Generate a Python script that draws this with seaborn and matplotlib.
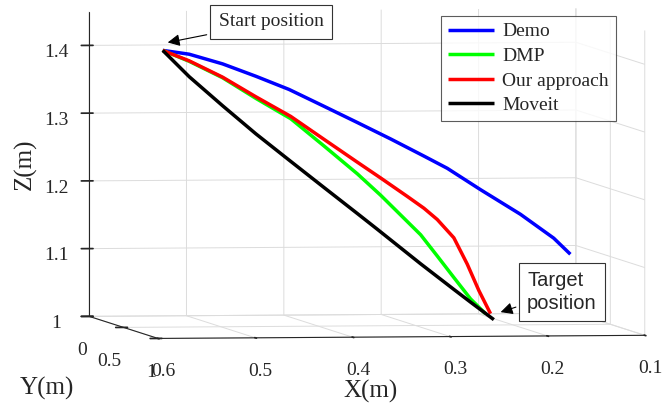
import matplotlib
matplotlib.use("Agg")
import matplotlib.pyplot as plt
import seaborn as sns

# ---------------- data ----------------
demo_x = [0.5456, 0.5184, 0.4841, 0.4499, 0.4158, 0.3799, 0.3456, 0.3115, 0.2773,
          0.2533, 0.2192, 0.1782, 0.1440, 0.1269]
demo_z = [1.4019, 1.3960, 1.3814, 1.3628, 1.3430, 1.3178, 1.2935, 1.2690, 1.2434,
          1.2251, 1.1933, 1.1566, 1.1210, 1.0971]
demo_y = [0.3] * len(demo_x)

dmp_x = [0.5456, 0.5184, 0.4841, 0.4499, 0.4141, 0.3799, 0.3456, 0.3217, 0.3012,
         0.2807, 0.2636, 0.2466, 0.2294, 0.2141]
dmp_z = [1.4019, 1.3855, 1.3609, 1.3301, 1.2998, 1.2592, 1.2177, 1.1859, 1.1566,
         1.1273, 1.0957, 1.0639, 1.0321, 1.0101]
dmp_y = [0.3] * len(dmp_x)

ours_x = [0.5456, 0.5423, 0.5184, 0.4841, 0.4499, 0.4141, 0.3799, 0.3456, 0.3217,
          0.2944, 0.2773, 0.2636, 0.2466, 0.2328, 0.2209, 0.2089]
ours_z = [1.4019, 1.3999, 1.3862, 1.3618, 1.3325, 1.3032, 1.2690, 1.2349, 1.2114,
          1.1840, 1.1664, 1.1496, 1.1225, 1.0834, 1.0444, 1.0101]
ours_y = [0.3] * len(ours_x)

moveit_x = [0.5456, 0.5184, 0.4841, 0.4499, 0.4141, 0.3799, 0.3456, 0.3251, 0.2807,
            0.2466, 0.2294, 0.2055]
moveit_z = [1.4019, 1.3628, 1.3196, 1.2778, 1.2368, 1.1979, 1.1591, 1.1357, 1.0844,
            1.0463, 1.0273, 1.0013]
moveit_y = [0.3] * len(moveit_x)

series_names = ["Demo", "DMP", "Our approach", "Moveit"]
series_colors = ["#0000ff", "#00ff00", "#ff0000", "#000000"]

x_ticks = [0.1, 0.2, 0.3, 0.4, 0.5, 0.6]
y_ticks = [0, 0.5, 1]
z_ticks = [1, 1.1, 1.2, 1.3, 1.4]

# ---------------- style ----------------
sns.set_theme(style="white")
plt.rcParams["font.family"] = ["Liberation Serif", "DejaVu Serif"]

fig = plt.figure(figsize=(6.7, 4.05), dpi=100)
ax = fig.add_axes([0.0395, 0.0583, 1.0, 1.0], projection="3d", proj_type="ortho")
ax.set_box_aspect((493, 493, 306), zoom=1.82)
ax.view_init(elev=2.6, azim=81.95)

series = [(demo_x, demo_y, demo_z), (dmp_x, dmp_y, dmp_z),
          (ours_x, ours_y, ours_z), (moveit_x, moveit_y, moveit_z)]
for (xs, ys, zs), name, col in zip(series, series_names, series_colors):
    ax.plot(xs, ys, zs, color=col, lw=2.5, label=name, solid_capstyle="butt",
            solid_joinstyle="round", clip_on=False)

ax.set_xlim(0.1, 0.6)
ax.set_ylim(0, 1)
ax.set_zlim(1, 1.45)
ax.set_xticks(x_ticks)
ax.set_yticks(y_ticks)
ax.set_zticks(z_ticks)
ax.set_xticklabels([f"{v:g}" for v in x_ticks])
ax.set_yticklabels([])
ax.set_zticklabels([f"{v:g}" for v in z_ticks])
ax.tick_params(labelsize=14, colors="#262626")
ax.tick_params(axis="z", pad=1)
for axis in (ax.xaxis, ax.yaxis, ax.zaxis):
    axis.offsetText.set_visible(False)
    axis.label.set_visible(False)
for t in (ax.title, ax._left_title, ax._right_title):
    t.set_visible(False)

# y tick labels set just below the ticks of the left floor edge
for v in y_ticks:
    ax.text(0.602, v, 0.949, f"{v:g}", ha="right", va="center", fontsize=14,
            color="#262626")

for axis in (ax.xaxis, ax.yaxis, ax.zaxis):
    axis.set_pane_color((1, 1, 1, 0))
    axis.pane.set_edgecolor("#d9d9d9")
    axis._axinfo["grid"]["color"] = "#dcdcdc"
    axis._axinfo["grid"]["linewidth"] = 0.7
    axis.line.set_color("#262626")
    axis.line.set_linewidth(0.8)

fig.text(25 / 670, 1 - 164 / 405, "Z(m)", rotation=90, ha="center", va="center", fontsize=18)
fig.text(47 / 670, 1 - 388 / 405, "Y(m)", ha="center", va="center", fontsize=18)
fig.text(371 / 670, 1 - 391 / 405, "X(m)", ha="center", va="center", fontsize=18)

leg = ax.legend(loc="upper left", bbox_to_anchor=(441 / 670, 1 - 16 / 405),
                bbox_transform=fig.transFigure, borderaxespad=0, fontsize=14,
                frameon=True, fancybox=False, edgecolor="#333333", handlelength=2.4,
                labelspacing=0.36, borderpad=0.35, handletextpad=0.4)
leg.get_frame().set_linewidth(0.8)

ax.annotate("Start position", xy=(165 / 670, 1 - 43 / 405), xycoords="figure fraction",
            xytext=(271 / 670, 1 - 22 / 405), textcoords="figure fraction",
            ha="center", va="center", fontsize=14,
            bbox=dict(boxstyle="square,pad=0.45", fc="white", ec="#333333", lw=0.8),
            arrowprops=dict(arrowstyle="-|>", color="black", lw=0.8, mutation_scale=18))
ax.annotate("Target\nposition", xy=(498 / 670, 1 - 313 / 405), xycoords="figure fraction",
            xytext=(527 / 670, 1 - 292 / 405), textcoords="figure fraction",
            ha="left", va="center", fontsize=14.5, family=["Liberation Sans", "DejaVu Sans"],
            linespacing=1.3,
            bbox=dict(boxstyle="square,pad=0.4", fc="white", ec="#333333", lw=0.8),
            arrowprops=dict(arrowstyle="-|>", color="black", lw=0.8, mutation_scale=18))

fig.savefig("out.png", dpi=100)
